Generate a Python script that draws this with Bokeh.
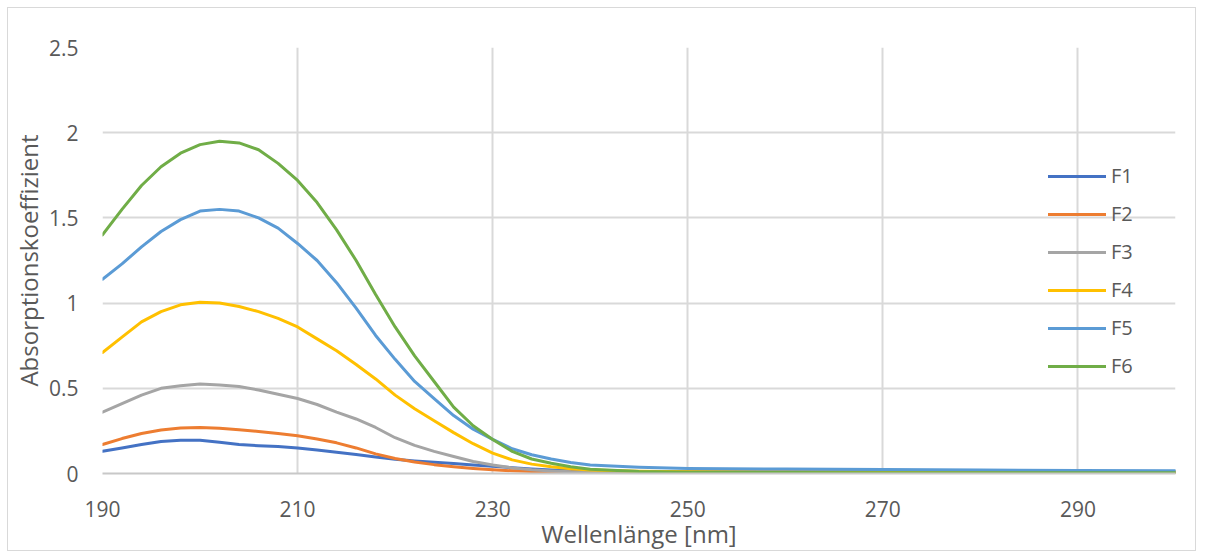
from bokeh.plotting import figure
from bokeh.models import Range1d, FixedTicker, Legend, LegendItem
from bokeh.embed import file_html
from bokeh.resources import INLINE

# ---- data ----
wavelength = [190, 192, 194, 196, 198, 200, 202, 204, 206, 208, 210, 212, 214, 216, 218,
              220, 222, 224, 226, 228, 230, 232, 234, 236, 238, 240, 245, 250, 260, 270,
              280, 290, 300]
F1 = [0.13, 0.15, 0.17, 0.188, 0.195, 0.195, 0.183, 0.17, 0.163, 0.158, 0.15, 0.138, 0.125,
      0.112, 0.097, 0.084, 0.074, 0.066, 0.058, 0.05, 0.042, 0.034, 0.027, 0.021, 0.017,
      0.014, 0.012, 0.011, 0.011, 0.01, 0.01, 0.01, 0.01]
F2 = [0.17, 0.205, 0.235, 0.255, 0.267, 0.27, 0.265, 0.257, 0.247, 0.235, 0.222, 0.203, 0.18,
      0.15, 0.115, 0.088, 0.068, 0.052, 0.04, 0.03, 0.022, 0.016, 0.012, 0.01, 0.009, 0.008,
      0.008, 0.008, 0.008, 0.008, 0.008, 0.008, 0.008]
F3 = [0.36, 0.41, 0.46, 0.50, 0.515, 0.525, 0.52, 0.51, 0.49, 0.465, 0.44, 0.405, 0.36, 0.32,
      0.27, 0.21, 0.165, 0.13, 0.10, 0.07, 0.05, 0.033, 0.022, 0.015, 0.01, 0.008, 0.006,
      0.005, 0.005, 0.005, 0.005, 0.005, 0.005]
F4 = [0.71, 0.80, 0.89, 0.95, 0.99, 1.005, 1.00, 0.98, 0.95, 0.91, 0.86, 0.79, 0.72, 0.64,
      0.555, 0.46, 0.38, 0.31, 0.24, 0.175, 0.12, 0.08, 0.055, 0.04, 0.028, 0.02, 0.013,
      0.01, 0.009, 0.008, 0.008, 0.007, 0.007]
F5 = [1.14, 1.23, 1.33, 1.42, 1.49, 1.54, 1.55, 1.54, 1.50, 1.44, 1.35, 1.25, 1.12, 0.97,
      0.81, 0.67, 0.54, 0.44, 0.34, 0.26, 0.20, 0.145, 0.11, 0.085, 0.065, 0.05, 0.037,
      0.03, 0.026, 0.023, 0.02, 0.018, 0.016]
F6 = [1.40, 1.55, 1.69, 1.80, 1.88, 1.93, 1.95, 1.94, 1.90, 1.82, 1.72, 1.59, 1.43, 1.25,
      1.05, 0.86, 0.69, 0.54, 0.39, 0.28, 0.20, 0.13, 0.085, 0.06, 0.04, 0.025, 0.012,
      0.008, 0.006, 0.005, 0.005, 0.005, 0.005]
series_names = ["F1", "F2", "F3", "F4", "F5", "F6"]
series_values = [F1, F2, F3, F4, F5, F6]
colors = ["#4472C4", "#ED7D31", "#A5A5A5", "#FFC000", "#5B9BD5", "#70AD47"]
x_ticks = [190, 210, 230, 250, 270, 290]
y_ticks = [0, 0.5, 1, 1.5, 2, 2.5]
y_tick_labels = ["0", "0.5", "1", "1.5", "2", "2.5"]

FONT = "Open Sans"
TXT = "#595959"
GRID = "#d9d9d9"

p = figure(width=1189, height=544, output_backend="svg", toolbar_location=None,
           x_range=Range1d(190, 300), y_range=Range1d(0, 2.5),
           min_border_left=94, min_border_right=22, min_border_top=39, min_border_bottom=76)
p.styles = {"border": "1px solid #d9d9d9", "margin-left": "7px", "margin-top": "7px"}
p.outline_line_color = None
p.background_fill_color = "white"
p.border_fill_color = "white"

items = []
for name, vals, c in zip(series_names, series_values, colors):
    r = p.line(wavelength, vals, line_color=c, line_width=3, line_join="round", line_cap="round")
    items.append(LegendItem(label=name, renderers=[r]))

# axes
p.xaxis.ticker = FixedTicker(ticks=x_ticks)
p.yaxis.ticker = FixedTicker(ticks=y_ticks)
p.yaxis.major_label_overrides = {t: l for t, l in zip(y_ticks, y_tick_labels)}
for ax in (p.xaxis[0], p.yaxis[0]):
    ax.major_tick_line_color = None
    ax.minor_tick_line_color = None
    ax.major_tick_in = 0
    ax.major_tick_out = 0
    ax.minor_tick_in = 0
    ax.minor_tick_out = 0
    ax.major_label_text_font = FONT
    ax.major_label_text_font_size = "21px"
    ax.major_label_text_color = TXT
    ax.axis_label_text_font = FONT
    ax.axis_label_text_font_size = "24px"
    ax.axis_label_text_font_style = "normal"
    ax.axis_label_text_color = TXT
p.yaxis.axis_line_color = None
p.xaxis.axis_line_color = "#c8c8c8"
p.xaxis.axis_line_width = 2
p.xaxis.major_label_standoff = 27
p.yaxis.major_label_standoff = 24
p.xaxis.axis_label = "Wellenlänge [nm]"
p.yaxis.axis_label = "Absorptionskoeffizient"
p.xaxis.axis_label_standoff = -3
p.yaxis.axis_label_standoff = 1

p.xgrid.ticker = FixedTicker(ticks=x_ticks)
p.ygrid.ticker = FixedTicker(ticks=y_ticks)
p.grid.grid_line_color = GRID
p.grid.grid_line_width = 2

legend = Legend(items=items, location=(946, 94), orientation="vertical",
                glyph_width=58, glyph_height=20, label_height=20, spacing=11,
                label_standoff=5, padding=0, margin=0,
                background_fill_alpha=0, border_line_color=None,
                label_text_font=FONT, label_text_font_size="20px", label_text_color=TXT)
p.add_layout(legend, "center")

open("out.html", "w").write(file_html(p, INLINE))
